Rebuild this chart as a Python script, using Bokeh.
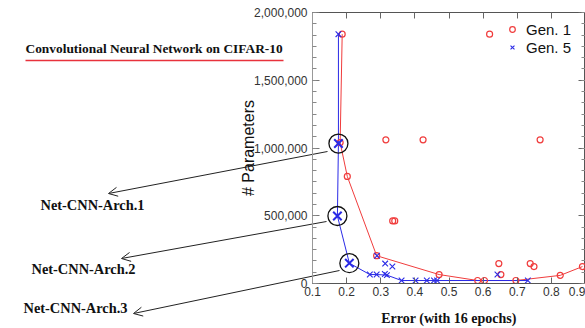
from bokeh.plotting import figure
from bokeh.models import (Label, Arrow, OpenHead, Legend, LegendItem, LinearAxis,
                          SingleIntervalTicker, NumeralTickFormatter, CustomJSTickFormatter)
from bokeh.embed import file_html
from bokeh.resources import INLINE

# ---- data ----
gen1_err = [0.187, 0.619, 0.315, 0.424, 0.767, 0.181, 0.202, 0.335, 0.341, 0.288,
            0.471, 0.584, 0.604, 0.646, 0.652, 0.696, 0.738, 0.749, 0.826, 0.891]
gen1_params = [1840000, 1840000, 1060000, 1060000, 1060000, 1040000, 790000, 462000, 462000, 205000,
               66000, 22000, 22000, 147000, 66000, 22000, 147000, 125000, 60000, 125000]
gen1_front_err = [0.187, 0.181, 0.202, 0.288, 0.471, 0.584, 0.604, 0.696, 0.826, 0.891]
gen1_front_params = [1840000, 1040000, 790000, 205000, 66000, 22000, 22000, 22000, 60000, 125000]

gen5_err = [0.176, 0.268, 0.288, 0.318, 0.361, 0.402, 0.435, 0.456, 0.465, 0.731,
            0.289, 0.313, 0.334, 0.642, 0.312]
gen5_params = [1840000, 66000, 66000, 62000, 22000, 22000, 22000, 22000, 22000, 22000,
               205000, 147000, 125000, 66000, 70000]
gen5_front_err = [0.176, 0.176, 0.173, 0.208, 0.268, 0.288, 0.318, 0.361, 0.402, 0.435, 0.456, 0.465, 0.731]
gen5_front_params = [1840000, 1033000, 498000, 150000, 66000, 66000, 62000, 22000, 22000, 22000, 22000, 22000, 22000]

arch_err = [0.176, 0.173, 0.208]
arch_params = [1033000, 498000, 150000]
arch_names = ["Net-CNN-Arch.1", "Net-CNN-Arch.2", "Net-CNN-Arch.3"]

title_text = "Convolutional Neural Network on CIFAR-10"
x_label = "Error (with 16 epochs)"
y_label = "# Parameters"

RED = "#f03c3c"
BLUE = "#2a2ae6"
SANS = "Liberation Sans"
SERIF = "Liberation Serif"
W, H = 585, 328

# ---------------- background canvas with the annotations ----------------
bg = figure(width=W, height=H, x_range=(0, W), y_range=(H, 0),
            output_backend="svg", toolbar_location=None,
            x_axis_location=None, y_axis_location=None, min_border=0)
bg.grid.visible = False
bg.outline_line_color = None
bg.background_fill_color = "white"
bg.border_fill_color = "white"

bg.add_layout(Label(x=25, y=48, text=title_text,
                    text_font=SERIF, text_font_style="bold", text_font_size="13.4px",
                    text_color="#111111", text_align="left", text_baseline="middle"))
bg.add_layout(Arrow(x_start=25, y_start=60, x_end=283, y_end=60, end=None,
                    line_color="#e8323c", line_width=1.6))

label_pos = [(40, 204), (31, 268), (23, 307)]
arrow_start = [(327, 151), (326, 221), (339, 270)]
arrow_end = [(108, 193), (121, 258), (133, 313)]
for name, (lx, ly), (ax0, ay0), (ax1, ay1) in zip(arch_names, label_pos, arrow_start, arrow_end):
    bg.add_layout(Label(x=lx, y=ly, text=name,
                        text_font=SERIF, text_font_style="bold", text_font_size="14.4px",
                        text_color="#111111", text_align="left", text_baseline="middle"))
    bg.add_layout(Arrow(x_start=ax0, y_start=ay0, x_end=ax1, y_end=ay1,
                        end=OpenHead(size=9, line_width=1, line_color="#222222"),
                        line_color="#222222", line_width=1))

# ---------------- the chart, laid over the canvas ----------------
p = figure(width=W, height=H, x_range=(0.1, 0.9), y_range=(0, 2000000),
           output_backend="svg", toolbar_location=None,
           min_border_left=312, min_border_right=0, min_border_top=12, min_border_bottom=43,
           styles={"position": "absolute", "left": "0px", "top": "0px"})
p.grid.visible = False
p.outline_line_color = "#555555"
p.background_fill_alpha = 0
p.border_fill_alpha = 0

xt = SingleIntervalTicker(interval=0.1, num_minor_ticks=0)
yt = SingleIntervalTicker(interval=500000, num_minor_ticks=6)
blank = CustomJSTickFormatter(code="return ''")

xa = p.xaxis[0]
xa.ticker = xt
xa.formatter = NumeralTickFormatter(format="0.0")
xa.major_tick_in = 6
xa.major_tick_out = 0
xa.major_tick_line_color = "#666666"
xa.axis_line_color = "#555555"
xa.major_label_standoff = 3
xa.major_label_text_font = SANS
xa.major_label_text_font_size = "12px"
xa.major_label_text_color = "#333333"
xa.axis_label = x_label
xa.axis_label_text_font = SERIF
xa.axis_label_text_font_style = "bold"
xa.axis_label_text_font_size = "14px"
xa.axis_label_text_color = "#111111"
xa.axis_label_standoff = 12

ya = p.yaxis[0]
ya.ticker = yt
ya.formatter = NumeralTickFormatter(format="0,0")
ya.major_tick_in = 7
ya.major_tick_out = 0
ya.minor_tick_in = 4
ya.minor_tick_out = 0
ya.major_tick_line_color = "#777777"
ya.minor_tick_line_color = "#888888"
ya.axis_line_color = "#999999"
ya.major_label_standoff = 5
ya.major_label_text_font = SANS
ya.major_label_text_font_size = "12px"
ya.major_label_text_color = "#333333"
ya.axis_label = y_label
ya.axis_label_text_font = SANS
ya.axis_label_text_font_style = "normal"
ya.axis_label_text_font_size = "16px"
ya.axis_label_text_color = "#111111"
ya.axis_label_standoff = -6

top = LinearAxis(ticker=xt, formatter=blank, major_label_standoff=0,
                 major_tick_in=6, major_tick_out=0, major_tick_line_color="#666666",
                 axis_line_color=None)
p.add_layout(top, "above")
right = LinearAxis(ticker=yt, formatter=blank, major_label_standoff=0,
                   major_tick_in=7, major_tick_out=0, minor_tick_in=4, minor_tick_out=0,
                   major_tick_line_color="#666666", minor_tick_line_color="#888888",
                   axis_line_color=None)
p.add_layout(right, "right")

# fronts
p.line(gen1_front_err, gen1_front_params, line_color=RED, line_width=1)
p.line(gen5_front_err, gen5_front_params, line_color=BLUE, line_width=1)
r1 = p.scatter(gen1_err, gen1_params, marker="circle", size=6, fill_color=None,
               line_color=RED, line_width=1.2)
r5 = p.scatter(gen5_err, gen5_params, marker="x", size=8, line_color=BLUE, line_width=1.1)
# architectures picked out
p.scatter(arch_err, arch_params, marker="x", size=12, line_color=BLUE, line_width=2)
p.scatter(arch_err, arch_params, marker="circle", size=19, fill_color=None,
          line_color="#111111", line_width=1.3)

legend = Legend(items=[LegendItem(label="Gen. 1", renderers=[r1]),
                       LegendItem(label="Gen. 5", renderers=[r5])],
                location="top_right", border_line_color=None, background_fill_alpha=0,
                label_text_font=SANS, label_text_font_size="15px", label_text_color="#111111",
                glyph_width=14, glyph_height=14, label_standoff=7, padding=5, margin=8,
                spacing=-4, label_height=18, label_width=51)
p.add_layout(legend)

open("out.html", "w").write(file_html((bg, p), INLINE))
